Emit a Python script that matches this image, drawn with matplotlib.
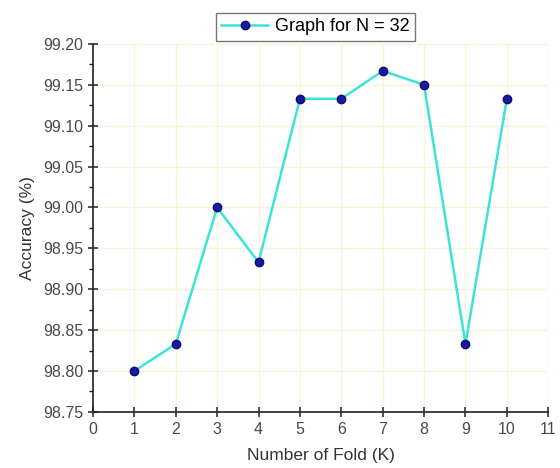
import matplotlib
matplotlib.use("Agg")
import matplotlib.pyplot as plt
from matplotlib.ticker import MultipleLocator, FormatStrFormatter

plt.rcParams['font.family'] = ['Liberation Sans', 'DejaVu Sans']

folds = [1, 2, 3, 4, 5, 6, 7, 8, 9, 10]
accuracy = [98.80, 98.833, 99.00, 98.933, 99.133, 99.133, 99.167, 99.15, 98.833, 99.133]
series_label = "Graph for N = 32"
x_label = "Number of Fold (K)"
y_label = "Accuracy (%)"

fig = plt.figure(figsize=(5.6, 4.68), dpi=100)
ax = fig.add_axes([0.166, 0.12, 0.813, 0.786])

ax.plot(folds, accuracy, color='#3de3d8', lw=1.8, marker='o', ms=6,
        markerfacecolor='#1a1aa0', markeredgecolor='#0a0a70', label=series_label, zorder=3)

ax.set_xlim(0, 11)
ax.set_ylim(98.75, 99.20)
ax.xaxis.set_major_locator(MultipleLocator(1))
ax.yaxis.set_major_locator(MultipleLocator(0.05))
ax.yaxis.set_minor_locator(MultipleLocator(0.025))
ax.yaxis.set_major_formatter(FormatStrFormatter('%.2f'))

ax.grid(True, which='major', color='#f7f5d8', lw=1.0, zorder=0)
for s in ['top', 'right']:
    ax.spines[s].set_visible(False)
for s in ['left', 'bottom']:
    ax.spines[s].set_color('#222222')
    ax.spines[s].set_linewidth(1.2)

ax.tick_params(axis='both', which='major', direction='inout', length=7, width=1.1,
               labelsize=11.5, colors='#222222', labelcolor='#4a4a4a')
ax.tick_params(axis='y', which='minor', direction='out', length=3, width=1.0, colors='#222222')

ax.set_xlabel(x_label, fontsize=12.5, color='#333333', labelpad=8)
ax.set_ylabel(y_label, fontsize=12.5, color='#333333', labelpad=6)

leg = ax.legend(loc='center', bbox_to_anchor=(0.489, 1.047), fontsize=13, frameon=True,
                fancybox=False, edgecolor='#555555', handlelength=2.6, borderpad=0.3,
                handletextpad=0.4, borderaxespad=0)
leg.get_frame().set_linewidth(1.0)

fig.savefig('out.png', dpi=100)
